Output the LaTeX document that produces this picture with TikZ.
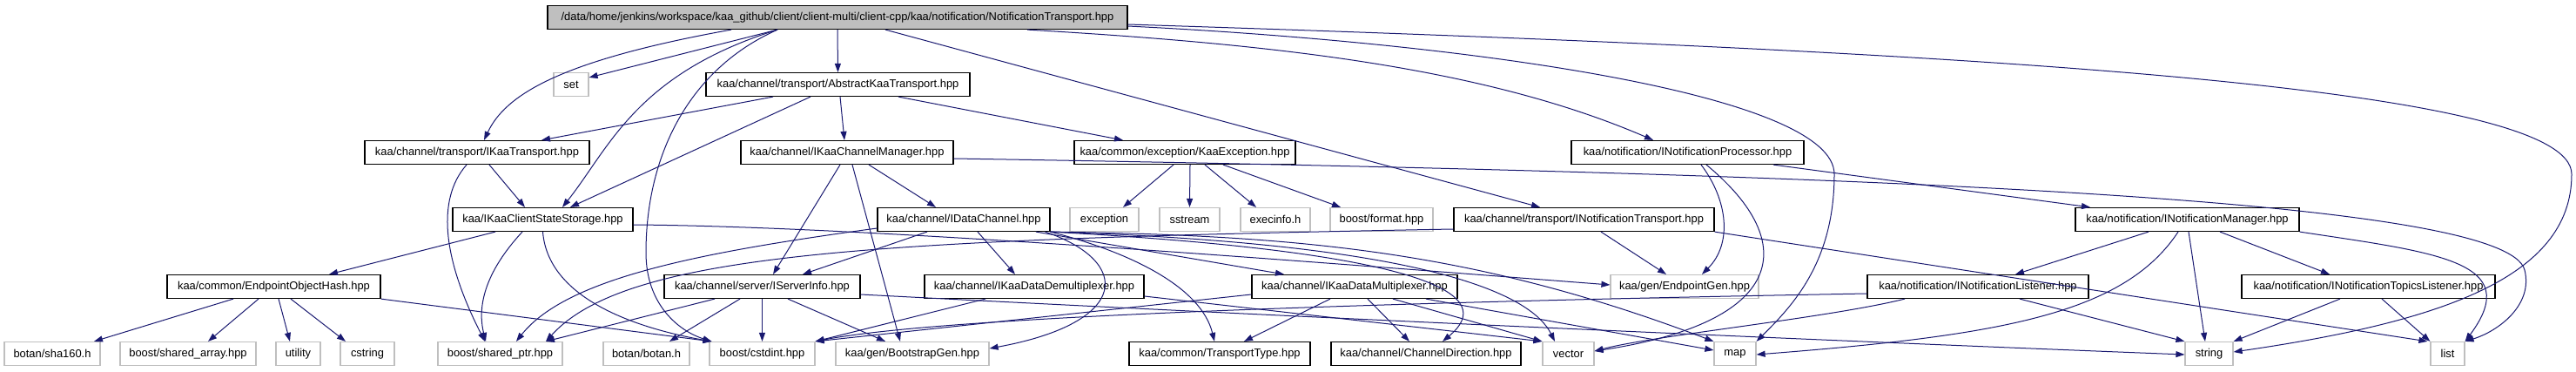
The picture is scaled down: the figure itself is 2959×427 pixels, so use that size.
\documentclass[tikz,border=0pt]{standalone}
\usepackage{fontspec}
\setmainfont{Liberation Sans}
\usetikzlibrary{arrows.meta}
\definecolor{edgecol}{HTML}{191970}
\definecolor{graybd}{HTML}{BFBFBF}
\begin{document}
\begin{tikzpicture}[x=1pt,y=-1pt,
 every node/.style={font=\fontsize{12.9}{15}\selectfont, inner sep=0pt, minimum height=27pt, anchor=center},
 doc/.style={draw=black, line width=1.2pt, fill=white},
 ext/.style={draw=graybd, line width=1.2pt, fill=white},
 rootbox/.style={draw=black, line width=1.2pt, fill=graybd},
 edge/.style={draw=edgecol, line width=1pt, -{Triangle[length=10pt,width=7pt]}}]
\useasboundingbox (0,0) rectangle (2959,427);
% nodes
\node[rootbox, minimum width=666pt] (root) at (962,20) {/data/home/jenkins/workspace/kaa\_github/client/client-multi/client-cpp/kaa/notification/NotificationTransport.hpp};
\node[ext, minimum width=40pt] (set) at (656,97) {set};
\node[doc, minimum width=303pt] (akt) at (962.5,97) {kaa/channel/transport/AbstractKaaTransport.hpp};
\node[doc, minimum width=258pt] (ikt) at (548,175) {kaa/channel/transport/IKaaTransport.hpp};
\node[doc, minimum width=244pt] (icm) at (973,175) {kaa/channel/IKaaChannelManager.hpp};
\node[doc, minimum width=254pt] (kex) at (1361,175) {kaa/common/exception/KaaException.hpp};
\node[doc, minimum width=267pt] (inp) at (1938.5,175) {kaa/notification/INotificationProcessor.hpp};
\node[doc, minimum width=207pt] (icss) at (623.5,252) {kaa/IKaaClientStateStorage.hpp};
\node[doc, minimum width=198pt] (idc) at (1107,252) {kaa/channel/IDataChannel.hpp};
\node[ext, minimum width=79pt] (exc) at (1268.5,252) {exception};
\node[ext, minimum width=69pt] (sst) at (1366.5,252) {sstream};
\node[ext, minimum width=80pt] (exi) at (1465,252) {execinfo.h};
\node[ext, minimum width=118pt] (fmt) at (1587,252) {boost/format.hpp};
\node[doc, minimum width=299pt] (int) at (1819.5,252) {kaa/channel/transport/INotificationTransport.hpp};
\node[doc, minimum width=257pt] (inm) at (2512.5,252) {kaa/notification/INotificationManager.hpp};
\node[doc, minimum width=245pt] (eoh) at (314.5,329) {kaa/common/EndpointObjectHash.hpp};
\node[doc, minimum width=225pt] (isi) at (875.5,329) {kaa/channel/server/IServerInfo.hpp};
\node[doc, minimum width=252pt] (idd) at (1188,329) {kaa/channel/IKaaDataDemultiplexer.hpp};
\node[doc, minimum width=236pt] (idm) at (1556,329) {kaa/channel/IKaaDataMultiplexer.hpp};
\node[ext, minimum width=170pt] (epg) at (1935,329) {kaa/gen/EndpointGen.hpp};
\node[doc, minimum width=254pt] (inl) at (2272,329) {kaa/notification/INotificationListener.hpp};
\node[doc, minimum width=291pt] (itl) at (2720.5,329) {kaa/notification/INotificationTopicsListener.hpp};
\node[ext, minimum width=110pt] (sha) at (60,406) {botan/sha160.h};
\node[ext, minimum width=156pt] (sar) at (216,406) {boost/shared\_array.hpp};
\node[ext, minimum width=51pt] (uti) at (342.5,406) {utility};
\node[ext, minimum width=62pt] (cst) at (422,406) {cstring};
\node[ext, minimum width=143pt] (sptr) at (574.5,406) {boost/shared\_ptr.hpp};
\node[ext, minimum width=99pt] (bot) at (742.5,406) {botan/botan.h};
\node[ext, minimum width=121pt] (cint) at (875.5,406) {boost/cstdint.hpp};
\node[ext, minimum width=176pt] (bsg) at (1048,406) {kaa/gen/BootstrapGen.hpp};
\node[doc, minimum width=208pt] (tpt) at (1401,406) {kaa/common/TransportType.hpp};
\node[doc, minimum width=218pt] (chd) at (1638,406) {kaa/channel/ChannelDirection.hpp};
\node[ext, minimum width=59pt] (vec) at (1801.5,406) {vector};
\node[ext, minimum width=48pt] (map) at (1993,406) {map};
\node[ext, minimum width=55pt] (str) at (2537.5,406) {string};
\node[ext, minimum width=39pt] (lst) at (2811.5,406) {list};
% edges from root
\draw[edge] ([xshift=-122pt]root.south) .. controls (640,70) and (580,110) .. ([xshift=8pt]ikt.north);
\draw[edge] ([xshift=-69pt]root.south) -- ([yshift=8pt]set.east);
\draw[edge] ([xshift=-69pt]root.south) .. controls (730,85) and (700,170) .. ([xshift=22.5pt]icss.north);
\draw[edge] ([xshift=-69pt]root.south) .. controls (790,80) and (742,180) .. (742,290) .. controls (742,350) and (780,380) .. ([xshift=3pt]cint.north west);
\draw[edge] (root.south) -- (akt.north);
\draw[edge] ([xshift=55pt]root.south) -- ([xshift=-50.5pt]int.north);
\draw[edge] ([xshift=218pt]root.south) .. controls (1450,50) and (1700,75) .. ([xshift=-39.5pt]inp.north);
\draw[edge] ([yshift=-10pt]root.east) .. controls (1700,50) and (2107,110) .. (2107,200) .. controls (2107,300) and (2060,350) .. (map.north east);
\draw[edge] ([yshift=-8pt]root.east) .. controls (2300,60) and (2954,100) .. (2954,200) .. controls (2954,320) and (2800,370) .. ([yshift=2pt]str.east);
% AbstractKaaTransport
\draw[edge] ([xshift=-74.5pt]akt.south) -- ([xshift=74pt]ikt.north);
\draw[edge] ([xshift=-31.5pt]akt.south) -- ([xshift=31.5pt]icss.north);
\draw[edge] ([xshift=2.5pt]akt.south) -- ([xshift=-3pt]icm.north);
\draw[edge] ([xshift=69.5pt]akt.south) -- ([xshift=-71pt]kex.north);
% IKaaTransport
\draw[edge] ([xshift=14pt]ikt.south) -- ([xshift=-20.5pt]icss.north);
\draw[edge] ([xshift=-12pt]ikt.south) .. controls (500,230) and (510,300) .. ([xshift=-17.5pt]sptr.north);
% IKaaChannelManager
\draw[edge] ([xshift=-8pt]icm.south) -- ([xshift=12.5pt]isi.north);
\draw[edge] ([xshift=6pt]icm.south) -- ([xshift=-14pt]bsg.north);
\draw[edge] ([xshift=25pt]icm.south) -- ([xshift=-32pt]idc.north);
\draw[edge] ([yshift=-7pt]icm.east) .. controls (2200,200) and (2880,230) .. (2900,310) .. controls (2910,350) and (2870,380) .. (lst.north east);
% KaaException
\draw[edge] ([xshift=-13pt]kex.south) -- ([xshift=21.5pt]exc.north);
\draw[edge] ([xshift=6pt]kex.south) -- (sst.north);
\draw[edge] ([xshift=23pt]kex.south) -- ([xshift=-22pt]exi.north);
\draw[edge] ([xshift=44pt]kex.south) -- ([xshift=-47pt]fmt.north);
% INotificationProcessor
\draw[edge] ([xshift=98.5pt]inp.south) -- ([xshift=-111.5pt]inm.north);
\draw[edge] ([xshift=15.5pt]inp.south) .. controls (1985,230) and (1990,280) .. ([xshift=20pt]epg.north);
\draw[edge] ([xshift=21.5pt]inp.south) .. controls (2070,280) and (2050,370) .. ([yshift=3pt]vec.east);
% IKaaClientStateStorage
\draw[edge] ([xshift=-54.5pt]icss.south) -- ([xshift=63.5pt]eoh.north);
\draw[edge] ([xshift=-23.5pt]icss.south) .. controls (550,320) and (550,360) .. ([xshift=-16.5pt]sptr.north);
\draw[edge] (icss.south) .. controls (630,350) and (750,380) .. ([xshift=3pt]cint.north west);
\draw[edge] ([yshift=-6pt]icss.east) .. controls (1000,260) and (1500,300) .. ([yshift=2pt]epg.west);
% EndpointObjectHash
\draw[edge] ([xshift=-46.5pt]eoh.south) -- ([xshift=48pt]sha.north);
\draw[edge] ([xshift=-17.5pt]eoh.south) -- ([xshift=23pt]sar.north);
\draw[edge] ([xshift=5.5pt]eoh.south) -- ([xshift=-9.5pt]uti.north);
\draw[edge] ([xshift=19.5pt]eoh.south) -- ([xshift=-25pt]cst.north);
\draw[edge] (eoh.south east) -- ([xshift=3pt]cint.north west);
% IDataChannel
\draw[edge] ([xshift=-42pt]idc.south) -- ([xshift=46.5pt]isi.north);
\draw[edge] ([xshift=16pt]idc.south) -- ([xshift=-22pt]idd.north);
\draw[edge] ([xshift=83pt]idc.south) -- ([xshift=-81pt]idm.north);
\draw[edge] (idc.south east) .. controls (1300,290) and (1380,330) .. ([xshift=-6pt]tpt.north);
\draw[edge] ([xshift=-6pt]idc.south east) .. controls (1300,300) and (1300,370) .. ([yshift=6pt]bsg.east);
\draw[edge] (idc.south east) .. controls (1650,290) and (1720,340) .. ([xshift=19pt]chd.north);
\draw[edge] (idc.south east) .. controls (1650,280) and (1760,340) .. ([xshift=-15.5pt]vec.north);
\draw[edge] (idc.south east) .. controls (1500,270) and (1700,290) .. (map.north west);
\draw[edge] ([yshift=-10pt]idc.west) .. controls (800,290) and (650,320) .. ([xshift=18.5pt]sptr.north);
% INotificationTransport
\draw[edge] ([yshift=-11pt]int.west) .. controls (1000,275) and (720,290) .. ([xshift=52.5pt]sptr.north);
\draw[edge] ([xshift=19.5pt]int.south) -- ([xshift=-21pt]epg.north);
\draw[edge] (int.south east) -- ([xshift=-3pt]lst.north west);
% IServerInfo
\draw[edge] ([xshift=-54.5pt]isi.south) -- ([xshift=52.5pt]sptr.north);
\draw[edge] ([xshift=-25.5pt]isi.south) -- ([xshift=26.5pt]bot.north);
\draw[edge] (isi.south) -- (cint.north);
\draw[edge] ([xshift=29.5pt]isi.south) -- ([xshift=-31pt]bsg.north);
\draw[edge] ([yshift=-9pt]isi.east) .. controls (1600,370) and (2200,395) .. ([yshift=-1pt]str.west);
% IKaaDataDemultiplexer
\draw[edge] ([xshift=-56pt]idd.south) -- (cint.north east);
\draw[edge] ([yshift=-11pt]idd.east) -- (vec.north west);
% IKaaDataMultiplexer
\draw[edge] ([yshift=-9pt]idm.west) -- (cint.north east);
\draw[edge] ([xshift=-28pt]idm.south) -- ([xshift=28pt]tpt.north);
\draw[edge] ([xshift=15pt]idm.south) -- ([xshift=-19pt]chd.north);
\draw[edge] ([xshift=44pt]idm.south) -- (vec.north west);
\draw[edge] ([xshift=82pt]idm.south) -- ([yshift=4pt]map.west);
% INotificationManager
\draw[edge] ([xshift=-44.5pt]inm.south) -- ([xshift=43pt]inl.north);
\draw[edge] ([xshift=37.5pt]inm.south) -- ([xshift=-44.5pt]itl.north);
\draw[edge] ([xshift=1.5pt]inm.south) -- ([xshift=-4.5pt]str.north);
\draw[edge] (inm.south east) .. controls (2800,290) and (2900,300) .. (lst.north east);
\draw[edge] ([xshift=-10.5pt]inm.south) .. controls (2440,360) and (2300,385) .. ([yshift=-1pt]map.east);
% INotificationListener
\draw[edge] ([xshift=48pt]inl.south) -- (str.north west);
\draw[edge] ([xshift=-84pt]inl.south) .. controls (2100,365) and (1900,385) .. ([yshift=3pt]vec.east);
\draw[edge] ([yshift=-8pt]inl.west) .. controls (1700,345) and (1100,360) .. (cint.north east);
% INotificationTopicsListener
\draw[edge] ([xshift=-32.5pt]itl.south) -- (str.north east);
\draw[edge] ([xshift=15.5pt]itl.south) -- (lst.north west);
\end{tikzpicture}
\end{document}
